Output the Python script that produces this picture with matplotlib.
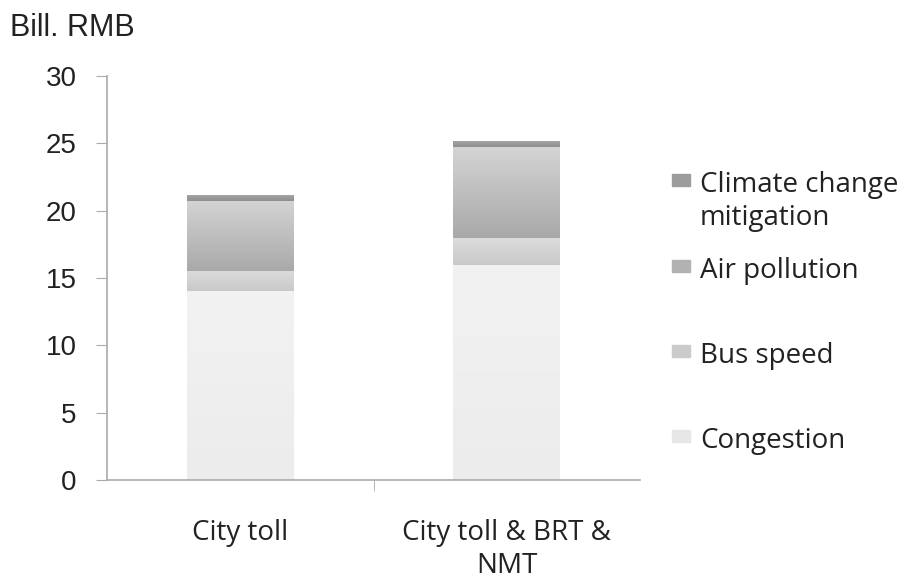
import numpy as np
import matplotlib.pyplot as plt
from matplotlib.colors import to_rgb
from matplotlib.patches import Rectangle

# Stacked benefit components per scenario (Bill. RMB)
scenarios = ["City toll", "City toll & BRT &\nNMT"]
series = ["Congestion", "Bus speed", "Air pollution", "Climate change\nmitigation"]
congestion = [14.0, 16.0]
bus_speed = [1.55, 2.0]
air_pollution = [5.2, 6.7]
climate = [0.45, 0.5]
values = [congestion, bus_speed, air_pollution, climate]

# top / bottom shade of the vertical gradient for each segment
shades = [("#f2f2f2", "#ececec"), ("#dcdcdc", "#c9c9c9"),
          ("#d4d4d4", "#a9a9a9"), ("#a8a8a8", "#8e8e8e")]
swatch = ["#e6e6e6", "#cbcbcb", "#b2b2b2", "#9c9c9c"]

W, H = 914, 580
fig = plt.figure(figsize=(W / 100, H / 100), dpi=100)
ax = fig.add_axes([107 / W, 1 - 480 / H, 533 / W, 404 / H])

x = np.arange(len(scenarios))
bottom = np.zeros(len(scenarios))
grad = np.linspace(0, 1, 64)[:, None, None]
for vals, (top_c, bot_c) in zip(values, shades):
    bars = ax.bar(x, vals, 0.4, bottom=bottom, color="none", edgecolor="none")
    img = np.array(to_rgb(top_c)) * (1 - grad) + np.array(to_rgb(bot_c)) * grad
    for b in bars:
        im = ax.imshow(img, aspect="auto", interpolation="bicubic",
                       extent=(b.get_x(), b.get_x() + b.get_width(),
                               b.get_y(), b.get_y() + b.get_height()),
                       zorder=2)
        im.set_clip_path(b)
    bottom += np.array(vals)

ax.set_xlim(-0.5, 1.5)
ax.set_ylim(0, 30)
ax.set_yticks(range(0, 31, 5))
ax.set_xticks([0.5], minor=True)
ax.set_xticks(x)
ax.set_xticklabels(scenarios, family="Open Sans", fontsize=20, color="#222222",
                   linespacing=1.25)
for lbl in ax.get_yticklabels():
    lbl.set_family("Liberation Sans")
    lbl.set_fontsize(20)
    lbl.set_color("#222222")

for side in ["top", "right"]:
    ax.spines[side].set_visible(False)
for side in ["left", "bottom"]:
    ax.spines[side].set_color("#aaaaaa")
    ax.spines[side].set_linewidth(1.2)
ax.tick_params(axis="y", direction="out", length=8, color="#aaaaaa", pad=14)
ax.tick_params(axis="x", which="major", length=0, pad=28)
ax.tick_params(axis="x", which="minor", direction="out", length=8, color="#aaaaaa")

fig.text(10 / W, 1 - 36 / H, "Bill. RMB", family="Liberation Sans",
         fontsize=22, color="#222222", va="baseline")

# legend, top entry first; baselines in pixels
legend_base = [192, 278, 363, 448]
for label, col, base in zip(series[::-1], swatch[::-1], legend_base):
    fig.patches.append(Rectangle((672 / W, 1 - (base - 6) / H), 18 / W, 12 / H,
                                 transform=fig.transFigure, color=col))
    for i, line in enumerate(label.split("\n")):
        fig.text(700 / W, 1 - (base + 33 * i) / H, line, family="Open Sans",
                 fontsize=20, color="#222222", va="baseline")

fig.savefig("out.png", dpi=100)
